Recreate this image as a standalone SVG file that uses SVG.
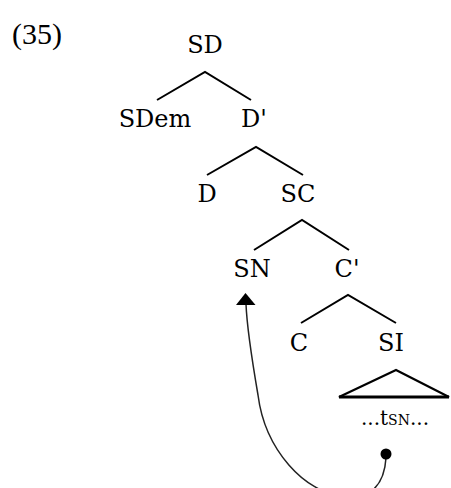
<svg xmlns="http://www.w3.org/2000/svg" width="451" height="488" viewBox="0 0 451 488">
<style>
.lbl{font-family:"DejaVu Serif","Liberation Serif",serif;font-size:24px;fill:#000;text-anchor:middle}
.num{font-family:"Liberation Serif","Times New Roman",serif;font-size:30px;fill:#000}
.br{stroke:#000;stroke-width:2;fill:none;stroke-linecap:butt}
.mv{stroke:#222;stroke-width:1.5;fill:none}
</style>
<rect width="451" height="488" fill="#fff"/>
<text class="num" x="12" y="44">(35)</text>
<g id="connectors">
<path class="br" d="M157,100 L205,72 L251,100"/>
<path class="br" d="M207,175 L256,147 L303,175"/>
<path class="br" d="M254,250 L302,220 L349,250"/>
<path class="br" d="M301,323 L348,295 L396,323"/>
<path class="mv" d="M386,458 C384,490 365,500 343,496 C305,493 265,450 258,395 C252,360 247,330 246,304"/>
<polygon points="245.5,293 236,305 255.5,305" fill="#000"/>
<circle cx="386" cy="454" r="5.5" fill="#000"/>
</g>
<g id="n-SD"><text class="lbl" x="205" y="53">SD</text></g>
<g id="n-SDem"><text class="lbl" x="155" y="127">SDem</text></g>
<g id="n-Dbar"><text class="lbl" x="254" y="127">D'</text></g>
<g id="n-D"><text class="lbl" x="207" y="202">D</text></g>
<g id="n-SC"><text class="lbl" x="298" y="202">SC</text></g>
<g id="n-SN"><text class="lbl" x="252" y="277">SN</text></g>
<g id="n-Cbar"><text class="lbl" x="347" y="277">C'</text></g>
<g id="n-C"><text class="lbl" x="299" y="351">C</text></g>
<g id="n-SI"><text class="lbl" x="391" y="351">SI</text></g>
<g id="n-SI-tri">
<polygon points="396,370 339,397 449,397" fill="none" stroke="#000" stroke-width="2.2" stroke-linejoin="miter"/>
<line x1="339" y1="397" x2="449" y2="397" stroke="#000" stroke-width="3"/>
<text class="lbl" x="395" y="425" style="font-size:20px">...t<tspan style="font-size:14px">SN</tspan>...</text>
</g>
</svg>
